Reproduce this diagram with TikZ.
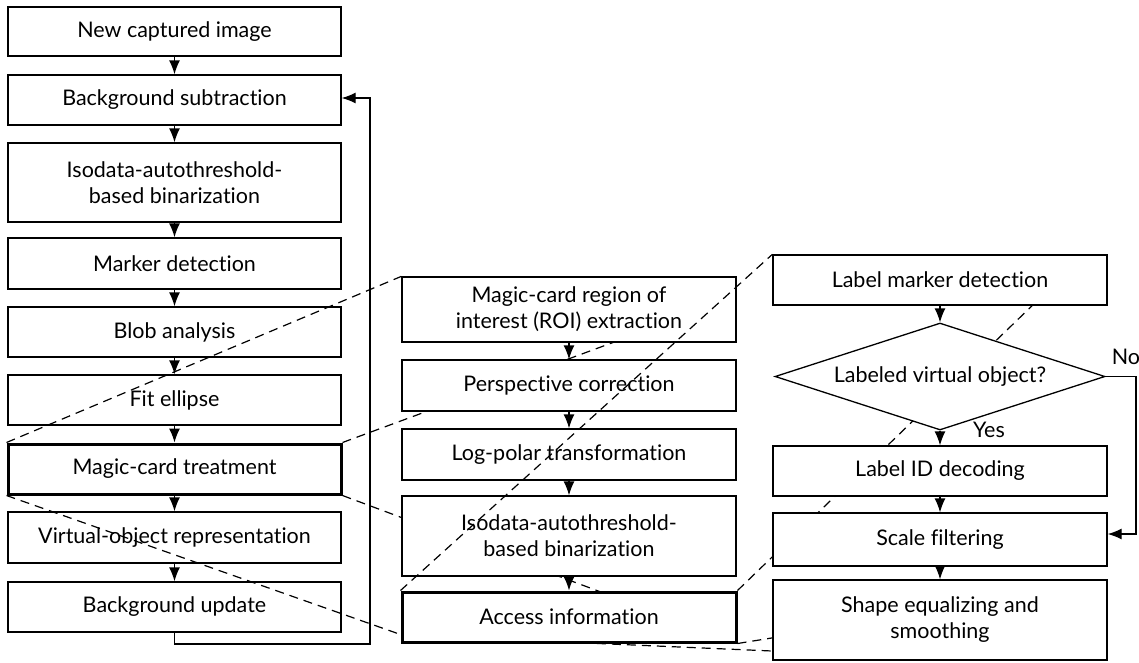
\documentclass[tikz,border=0pt]{standalone}
\usepackage{fontspec}
\setmainfont{Lato}[Ligatures={NoCommon,NoRare}]
\usetikzlibrary{shapes.geometric,arrows.meta}
\pgfdeclarelayer{lA}\pgfdeclarelayer{lB}\pgfdeclarelayer{lC}\pgfdeclarelayer{lD}
\pgfsetlayers{lA,lB,lC,lD,main}
\begin{document}
\begin{tikzpicture}[x=1pt,y=-1pt,
  txt/.style={font=\fontsize{21.5}{26}\selectfont},
  box/.style={txt,draw,line width=1.3pt,fill=white,inner sep=0pt,align=center},
  lbox/.style={box,minimum width=333pt},
  mbox/.style={box,minimum width=334pt},
  rbox/.style={box,minimum width=334pt},
  thickbox/.style={line width=3pt},
  arr/.style={line width=1.3pt,-{Latex[length=14pt,width=11pt]}},
  zoomline/.style={line width=1.2pt,dash pattern=on 9pt off 6pt},
  lbl/.style={txt,inner sep=0pt}]
\useasboundingbox (0,0) rectangle (1139,662);
% left column
\begin{pgfonlayer}{lA}
\node[lbox,minimum height=49pt] (n1) at (174.5,31.5) {New captured image};
\node[lbox,minimum height=50pt] (n2) at (174.5,100) {Background subtraction};
\node[lbox,minimum height=79pt] (n3) at (174.5,182.5) {Isodata-autothreshold-\\based binarization};
\node[lbox,minimum height=51pt] (n4) at (174.5,263.5) {Marker detection};
\node[lbox,minimum height=50pt] (n5) at (174.5,332) {Blob analysis};
\node[lbox,minimum height=50pt] (n6) at (174.5,400) {Fit ellipse};
\node[lbox,thickbox,minimum height=50pt] (n7) at (174.5,469) {Magic-card treatment};
\node[lbox,minimum height=51pt] (n8) at (174.5,537.5) {Virtual-object representation};
\node[lbox,minimum height=50pt] (n9) at (174.5,607) {Background update};
\draw[arr] (n1) -- (n2);
\draw[arr] (n2) -- (n3);
\draw[arr] (n3) -- (n4);
\draw[arr] (n4) -- (n5);
\draw[arr] (n5) -- (n6);
\draw[arr] (n6) -- (n7);
\draw[arr] (n7) -- (n8);
\draw[arr] (n8) -- (n9);
\coordinate (fb) at (370,98);
\draw[arr] (n9.south) |- (370,644) -- (fb) -- (n2.east |- fb);
\end{pgfonlayer}
% middle column
\begin{pgfonlayer}{lC}
\node[mbox,minimum height=65pt] (m1) at (569,309.5) {Magic-card region of\\interest (ROI) extraction};
\node[mbox,minimum height=51pt] (m2) at (569,385.5) {Perspective correction};
\node[mbox,minimum height=51pt] (m3) at (569,454.5) {Log-polar transformation};
\node[mbox,minimum height=80pt] (m4) at (569,536) {Isodata-autothreshold-\\based binarization};
\draw[arr] (m1) -- (m2);
\draw[arr] (m2) -- (m3);
\draw[arr] (m3) -- (m4);
\end{pgfonlayer}
\node[mbox,thickbox,minimum height=50pt] (m5) at (569,617) {Access information};
\draw[arr] (m4) -- (m5);
% right column
\node[rbox,minimum height=50pt] (r1) at (940,280) {Label marker detection};
\node[draw,fill=white,diamond,line width=1.3pt,inner sep=0pt,minimum width=330pt,minimum height=107pt] (dia) at (940,376.5) {};
\node[lbl] (dial) at (dia.center) {Labeled virtual object?};
\node[rbox,minimum height=50pt] (r2) at (940,471) {Label ID decoding};
\node[rbox,minimum height=53pt] (r3) at (940,539.5) {Scale filtering};
\node[rbox,minimum height=80pt] (r4) at (940,620) {Shape equalizing and\\smoothing};
\draw[arr] (r1) -- (dia);
\draw[arr] (dia) -- (r2);
\draw[arr] (r2) -- (r3);
\draw[arr] (r3) -- (r4);
\coordinate (noc) at (1136,534);
\draw[arr] (dia.east) -| (noc) -- (r3.east |- noc);
\node[lbl] (no) at (1126,357) {No};
\node[lbl] (yes) at (989,430) {Yes};
% zoom lines
\begin{pgfonlayer}{lB}
\coordinate (z2) at (736,297);
\coordinate (z3) at (402,635);
\coordinate (z4) at (625,601);
\draw[zoomline] (n7.north west) -- (m1.north west);
\draw[zoomline] (n7.north east) -- (z2);
\draw[zoomline] (n7.south west) -- (z3);
\draw[zoomline] (n7.south east) -- (z4);
\end{pgfonlayer}
\begin{pgfonlayer}{lD}
\coordinate (z6) at (1069,270);
\coordinate (z7) at (800,633.4);
\coordinate (z8) at (800,652.2);
\draw[zoomline] (m5.north west) -- (r1.north west);
\draw[zoomline] (m5.north east) -- (z6);
\draw[zoomline] (m5.south east) -- (z7);
\draw[zoomline] (z3) -- (z8);
\end{pgfonlayer}
\end{tikzpicture}
\end{document}
